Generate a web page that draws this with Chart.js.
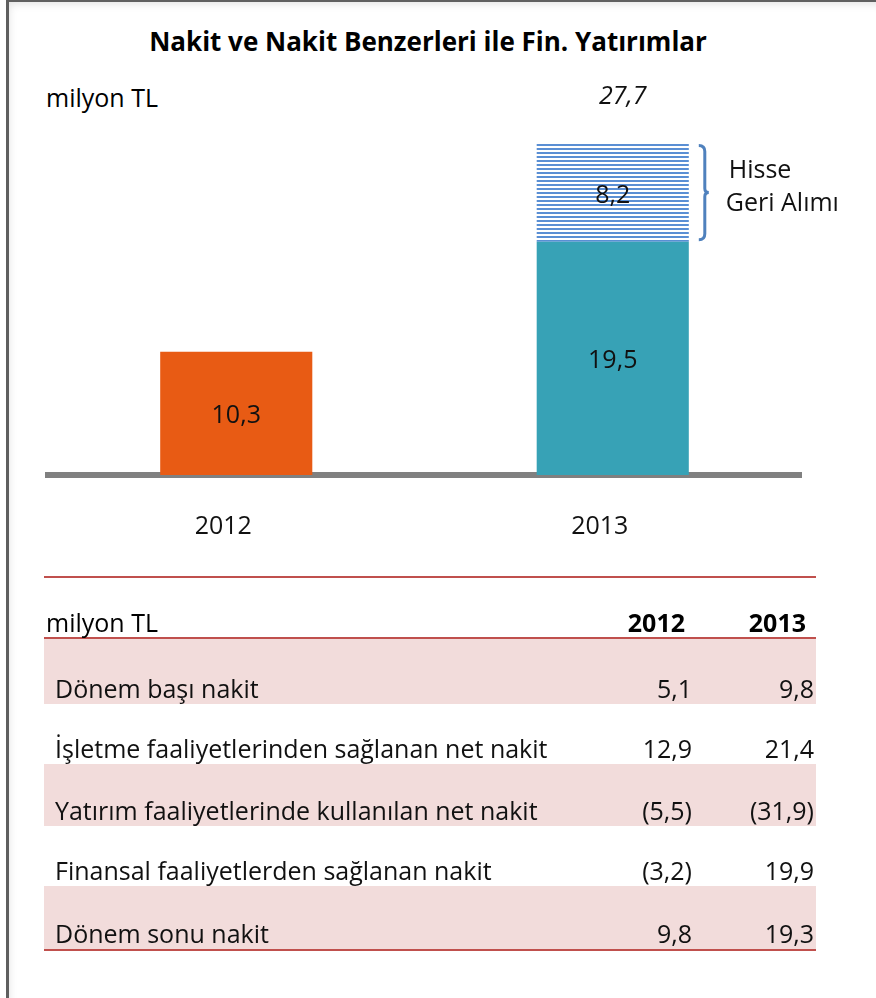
<!DOCTYPE html>
<html>
<head>
<meta charset="utf-8">
<script src="https://cdn.jsdelivr.net/npm/chart.js@4.4.1/dist/chart.umd.min.js"></script>
<style>
  html, body { margin: 0; padding: 0; background: #fff; }
  body { width: 876px; height: 998px; position: relative; overflow: hidden; font-family: "Open Sans", "Noto Sans", sans-serif; color: #111; }
  #frame { position: absolute; left: 6px; top: 0; width: 870px; height: 998px; border-left: 3px solid #5f5f5f; border-top: 2px solid #5f5f5f; box-sizing: border-box; box-shadow: inset 4px 6px 8px -4px rgba(0,0,0,0.12); }
  #title { position: absolute; left: 0; width: 856px; top: 24px; text-align: center; font-weight: bold; font-size: 26px; line-height: 34px; color: #000; }
  #unit { position: absolute; left: 46px; top: 80px; font-size: 25px; line-height: 34px; color: #000; }
  #chartWrap { position: absolute; left: 0; top: 0; width: 876px; height: 579px; }
  #tbl { position: absolute; left: 44px; top: 576px; width: 772px; border-collapse: collapse; table-layout: fixed; font-size: 25px; color: #111; }
  #tbl td, #tbl th { padding: 0; vertical-align: bottom; line-height: 30px; }
  #tbl thead tr { border-top: 2px solid #c0504d; border-bottom: 2px solid #c0504d; }
  #tbl thead th { height: 59px; padding-bottom: 0px; font-weight: bold; text-align: right; color: #000; }
  #tbl thead th.lbl { text-align: left; font-weight: normal; padding-left: 2px; }
  #tbl thead th.y1 { padding-right: 7px; }
  #tbl thead th.y2 { padding-right: 10px; }
  #tbl tbody td { text-align: right; padding-bottom: 1px; }
  #tbl tbody td.v2 { padding-right: 2px; }
  #tbl tbody td.lbl { text-align: left; padding-left: 11px; }
  #tbl tbody tr.pink { background: #f2dcdb; }
  #tbl tbody tr.last { border-bottom: 2px solid #c0504d; }
</style>
</head>
<body>
<div id="frame"></div>
<div id="title">Nakit ve Nakit Benzerleri ile Fin. Yatırımlar</div>
<div id="unit">milyon TL</div>
<div id="chartWrap"><canvas id="c" width="876" height="579"></canvas></div>
<table id="tbl">
  <colgroup><col style="width:560px"><col style="width:88px"><col style="width:124px"></colgroup>
  <thead><tr id="hdr"></tr></thead>
  <tbody id="tb"></tbody>
</table>
<script>
// ---- Data ----
const categories = ['2012', '2013'];
const cashValues = [10.3, 19.5];
const buybackValues = [null, 8.2];
const buybackLabel = ['Hisse', 'Geri Alımı'];
const totalLabel2013 = '27,7';

const tableUnit = 'milyon TL';
const tableYears = ['2012', '2013'];
const rowLabels = ['Dönem başı nakit', 'İşletme faaliyetlerinden sağlanan net nakit', 'Yatırım faaliyetlerinde kullanılan net nakit', 'Finansal faaliyetlerden sağlanan nakit', 'Dönem sonu nakit'];
const values2012 = ['5,1', '12,9', '(5,5)', '(3,2)', '9,8'];
const values2013 = ['9,8', '21,4', '(31,9)', '19,9', '19,3'];

// ---- Table ----
const hdr = document.getElementById('hdr');
hdr.innerHTML = '<th class="lbl">' + tableUnit + '</th><th class="y1">' + tableYears[0] + '</th><th class="y2">' + tableYears[1] + '</th>';
const tb = document.getElementById('tb');
const rowHeights = [66, 60, 62, 60, 64];
rowLabels.forEach((lbl, i) => {
  const tr = document.createElement('tr');
  tr.className = (i % 2 === 0 ? 'pink' : '') + (i === rowLabels.length - 1 ? ' last' : '');
  tr.style.height = rowHeights[i] + 'px';
  tr.innerHTML = '<td class="lbl">' + lbl + '</td><td>' + values2012[i] + '</td><td class="v2">' + values2013[i] + '</td>';
  tb.appendChild(tr);
});

// ---- Stripe pattern ----
const pc = document.createElement('canvas');
pc.width = 4; pc.height = 4;
const pctx = pc.getContext('2d');
pctx.fillStyle = '#ffffff'; pctx.fillRect(0, 0, 4, 4);
pctx.fillStyle = '#5a8fd4'; pctx.fillRect(0, 0, 4, 2);
const stripe = document.getElementById('c').getContext('2d').createPattern(pc, 'repeat');

const FONT = '"Open Sans", "Noto Sans", sans-serif';

const labelsPlugin = {
  id: 'labelsPlugin',
  afterDatasetsDraw(chart) {
    const ctx = chart.ctx;
    ctx.save();
    ctx.font = '25px ' + FONT;
    ctx.fillStyle = '#111';
    ctx.textAlign = 'center';
    ctx.textBaseline = 'middle';
    chart.data.datasets.forEach((ds, di) => {
      const meta = chart.getDatasetMeta(di);
      meta.data.forEach((bar, i) => {
        const v = ds.data[i];
        if (v === null || v === undefined) return;
        ctx.fillText(String(v).replace('.', ','), bar.x, (bar.y + bar.base) / 2 + 3);
      });
    });
    // total label above 2013 stack
    const top = chart.getDatasetMeta(1).data[1];
    ctx.font = 'italic 25px ' + FONT;
    ctx.fillText(totalLabel2013, top.x + 10, top.y - 47);
    // bracket
    const right = top.x + top.width / 2 + 10;
    const y1 = top.y + 2, y2 = top.base - 2, ym = (y1 + y2) / 2;
    ctx.strokeStyle = '#4f81bd';
    ctx.lineWidth = 3;
    ctx.beginPath();
    ctx.moveTo(right, y1);
    ctx.quadraticCurveTo(right + 6, y1, right + 6, y1 + 6);
    ctx.lineTo(right + 6, ym - 4);
    ctx.quadraticCurveTo(right + 6, ym, right + 10, ym);
    ctx.quadraticCurveTo(right + 6, ym, right + 6, ym + 4);
    ctx.lineTo(right + 6, y2 - 6);
    ctx.quadraticCurveTo(right + 6, y2, right, y2);
    ctx.stroke();
    ctx.font = '25px ' + FONT;
    ctx.fillStyle = '#111';
    ctx.textAlign = 'left';
    ctx.fillText(buybackLabel[0], right + 30, ym - 22);
    ctx.fillText(buybackLabel[1], right + 27, ym + 11);
    ctx.restore();
  }
};

new Chart(document.getElementById('c'), {
  type: 'bar',
  data: {
    labels: categories,
    datasets: [
      { label: 'Nakit', data: cashValues, backgroundColor: ['#e85b14', '#37a2b6'], borderWidth: 0 },
      { label: 'Hisse Geri Alımı', data: buybackValues, backgroundColor: stripe, borderWidth: 0 }
    ]
  },
  options: {
    responsive: false,
    animation: false,
    events: [],
    layout: { padding: { left: 48, right: 75, top: 116, bottom: 0 } },
    plugins: { legend: { display: false }, tooltip: { enabled: false }, title: { display: false } },
    datasets: { bar: { categoryPercentage: 1, barPercentage: 0.404 } },
    scales: {
      x: {
        stacked: true,
        grid: { display: false, drawTicks: false },
        border: { display: true, color: '#808080', width: 6 },
        ticks: { color: '#111', font: { family: FONT, size: 25 }, padding: 37, labelOffset: -13 }
      },
      y: {
        stacked: true,
        display: false,
        min: 0,
        max: 30
      }
    }
  },
  plugins: [labelsPlugin]
});
</script>
</body>
</html>
